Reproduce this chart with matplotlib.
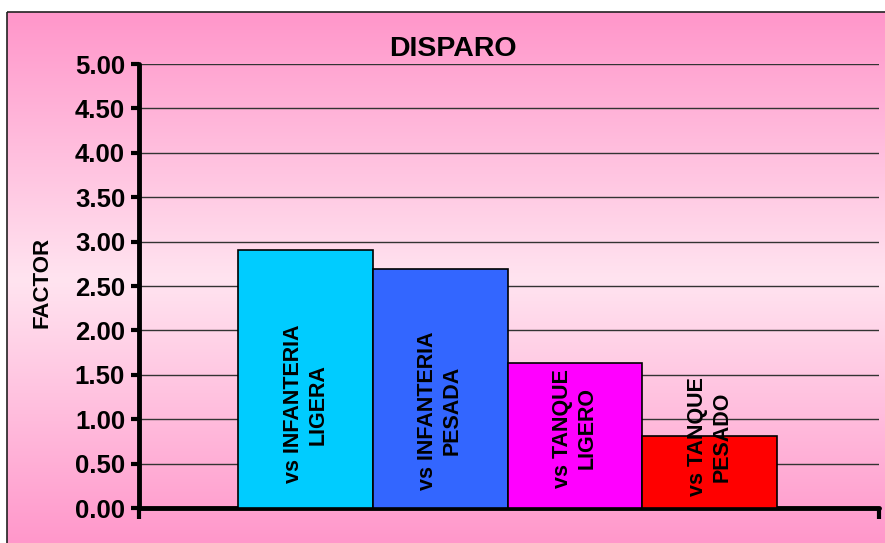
import numpy as np
import matplotlib
matplotlib.use("Agg")
import matplotlib.pyplot as plt
from matplotlib.patches import Rectangle

# ---- data ----
categories = ["vs INFANTERIA\nLIGERA", "vs INFANTERIA\nPESADA", "vs TANQUE\nLIGERO", "vs TANQUE\nPESADO"]
values = [2.91, 2.69, 1.63, 0.81]
colors = ["#00CCFF", "#3366FF", "#FF00FF", "#FF0000"]
yticks = [0.0, 0.5, 1.0, 1.5, 2.0, 2.5, 3.0, 3.5, 4.0, 4.5, 5.0]
title = "DISPARO"
ylabel = "FACTOR"
label_y = [1.17, 1.10, 0.90, 0.80]   # label centre heights

W, H = 885, 543
fig = plt.figure(figsize=(W / 100, H / 100), dpi=100)
fig.patch.set_facecolor("white")
plt.rcParams['font.family'] = ['Liberation Sans', 'DejaVu Sans']

# ---- background gradient ----
bg = fig.add_axes([0, 0, 1, 1], zorder=-5)
bg.set_xlim(0, W)
bg.set_ylim(H, 0)
bg.axis("off")
top_c = np.array([255, 150, 202]) / 255
mid_c = np.array([255, 228, 240]) / 255
n = 400
t = np.linspace(0, 1, n)
w = 1 - np.abs(t - 0.5) * 2
grad = top_c[None, :] * (1 - w[:, None]) + mid_c[None, :] * w[:, None]
grad = grad[:, None, :]
x0, y0 = 7, 12
bg.imshow(grad, extent=[x0, W + 5, H + 5, y0], aspect="auto", interpolation="bilinear")
bg.add_patch(Rectangle((x0, y0), W, H, fill=False, edgecolor="#222222", lw=1.2))

# ---- main axes ----
ax = fig.add_axes([139 / W, 1 - 508 / H, (879 - 139) / W, (508 - 64) / H])
ax.set_facecolor("none")
x = np.arange(len(values))
ax.bar(x, values, width=1.0, color=colors, edgecolor="black", linewidth=1.2, zorder=3)
ax.set_xlim(-0.5 - 0.736, len(values) - 0.5 + 0.758)
ax.set_ylim(0, 5)
ax.set_yticks(yticks)
ax.set_yticklabels([f"{v:.2f}" for v in yticks], fontsize=18.5, fontweight="bold")
for v in yticks[1:]:
    ax.axhline(v, color="#333333", lw=1.0, zorder=1)

ax.set_xticks(list(ax.get_xlim()))
ax.set_xticklabels([])
ax.tick_params(axis="x", length=8, width=3, direction="out")
ax.tick_params(axis="y", length=6, width=3, direction="out", pad=4)
for s in ["top", "right"]:
    ax.spines[s].set_visible(False)
for s in ["left", "bottom"]:
    ax.spines[s].set_linewidth(3.5)
    ax.spines[s].set_capstyle("round")

for xi, lab, ly in zip(x, categories, label_y):
    ax.text(xi, ly, lab, rotation=90, ha="center", va="center", fontsize=15.5,
            fontweight="bold", multialignment="center", linespacing=1.22, zorder=4)

fig.text(453 / W, 1 - 49 / H, title, ha="center", va="center", fontsize=20.5, fontweight="bold")
fig.text(42 / W, 1 - 282 / H, ylabel, ha="center", va="center", rotation=90, fontsize=16, fontweight="bold")

fig.savefig("out.png", dpi=100)
